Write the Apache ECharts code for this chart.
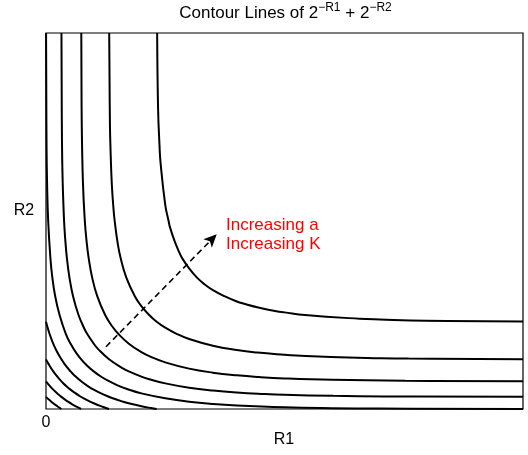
<!DOCTYPE html>
<html>
<head>
<meta charset="utf-8">
<script src="https://cdn.jsdelivr.net/npm/echarts@6/dist/echarts.min.js"></script>
<style>html,body{margin:0;padding:0;background:#fff}#c{width:528px;height:455px}</style>
</head>
<body>
<div id="c"></div>
<script>
// Contour levels of 2^-R1 + 2^-R2 (points [R1, R2])
const levels = [0.2, 0.4, 0.6, 0.8, 1.0, 1.2, 1.4, 1.6, 1.8];
const curve02 = [[2.33,10],[2.35,7.97],[2.38,7],[2.4,6.57],[2.5,5.43],[2.57,5],[2.6,4.83],[2.7,4.45],[2.8,4.15],[2.86,4],[3,3.74],[3.16,3.5],[3.32,3.32],[3.5,3.16],[3.74,3],[4,2.86],[4.15,2.8],[4.45,2.7],[4.83,2.6],[5,2.57],[5.43,2.5],[6.57,2.4],[7,2.38],[7.97,2.35],[10,2.33]];
const curve04 = [[1.325,10],[1.34,7.6],[1.35,7.02],[1.38,5.97],[1.42,5.25],[1.44,5],[1.5,4.43],[1.567,4],[1.682,3.5],[1.862,3],[2,2.737],[2.163,2.5],[2.32,2.32],[2.5,2.163],[2.737,2],[3,1.862],[3.5,1.682],[4,1.567],[4.43,1.5],[5,1.44],[5.25,1.42],[5.97,1.38],[7.02,1.35],[7.6,1.34],[10,1.325]];
const curve06 = [[0.74,10],[0.75,7.53],[0.775,6],[0.814,5],[0.85,4.47],[0.896,4],[0.967,3.5],[1.074,3],[1.24,2.5],[1.387,2.2],[1.515,2],[1.737,1.737],[2,1.515],[2.2,1.387],[2.5,1.24],[3,1.074],[3.5,0.967],[4,0.896],[4.47,0.85],[5,0.814],[6,0.775],[7.53,0.75],[10,0.74]];
const curve08 = [[0.324,10],[0.335,7.1],[0.35,6.02],[0.379,5],[0.4,4.57],[0.439,4],[0.491,3.5],[0.567,3],[0.682,2.5],[0.8,2.147],[0.862,2],[1,1.737],[1.089,1.6],[1.322,1.322],[1.6,1.089],[1.737,1],[2,0.862],[2.147,0.8],[2.5,0.682],[3,0.567],[3.5,0.491],[4,0.439],[4.57,0.4],[5,0.379],[6.02,0.35],[7.1,0.335],[10,0.324]];
const curve10 = [[0.0014,10],[0.0113,7],[0.0227,6],[0.0458,5],[0.0931,4],[0.1324,3.5],[0.1926,3],[0.2845,2.5],[0.415,2],[0.531,1.7],[0.6295,1.5],[0.7517,1.3],[0.864,1.15],[1,1],[1.15,0.864],[1.3,0.7517],[1.5,0.6295],[1.7,0.531],[2,0.415],[2.5,0.2845],[3,0.1926],[3.5,0.1324],[4,0.0931],[5,0.0458],[6,0.0227],[7,0.0113],[10,0.0014]];
const curve12 = [[0,2.32],[0.0256,2.2],[0.074,2],[0.1316,1.8],[0.2007,1.6],[0.2843,1.4],[0.387,1.2],[0.5146,1],[0.5905,0.9],[0.737,0.737],[0.9,0.5905],[1,0.5146],[1.2,0.387],[1.4,0.2843],[1.6,0.2007],[1.8,0.1316],[2,0.074],[2.2,0.0256],[2.32,0]];
const curve14 = [[0,1.32],[0.0518,1.2],[0.152,1],[0.2763,0.8],[0.35,0.7],[0.434,0.6],[0.515,0.515],[0.6,0.434],[0.7,0.35],[0.8,0.2763],[1,0.152],[1.2,0.0518],[1.32,0]];
const curve16 = [[0,0.737],[0.0548,0.65],[0.125,0.55],[0.204,0.45],[0.248,0.4],[0.322,0.322],[0.4,0.248],[0.45,0.204],[0.55,0.125],[0.65,0.0548],[0.737,0]];
const curve18 = [[0,0.322],[0.0603,0.25],[0.1056,0.2],[0.152,0.152],[0.2,0.1056],[0.25,0.0603],[0.322,0]];
const curves = [curve02, curve04, curve06, curve08, curve10, curve12, curve14, curve16, curve18];
const axisMin = 0, axisMax = 10;
const xTickLabels = ['0'];
const arrowFrom = [1.258, 1.657];
const arrowTo = [3.579, 4.646];
const noteLines = ['Increasing a', 'Increasing K'];
const titleParts = ['Contour Lines of 2', '−R1', ' + 2', '−R2'];

const FONT = 'Liberation Sans, Arial, Helvetica, sans-serif';
const mainFont = '17px ' + FONT;
const supFont = '12px ' + FONT;
const mctx = document.createElement('canvas').getContext('2d');
function tw(t, f) { mctx.font = f; return mctx.measureText(t).width; }
const partFonts = [mainFont, supFont, mainFont, supFont];
const partY = [13.5, 7.5, 13.5, 7.5];
let total = 0; titleParts.forEach((p, i) => total += tw(p, partFonts[i]));
let cx = 285.5 - total / 2;
const titleEls = titleParts.map((p, i) => {
  const el = {type: 'text', x: cx, y: partY[i], style: {text: p, font: partFonts[i], fill: '#000', align: 'left', verticalAlign: 'middle'}};
  cx += tw(p, partFonts[i]);
  return el;
});

const chart = echarts.init(document.getElementById('c'), null, {renderer: 'canvas'});
const series = curves.map((d, i) => ({
  name: 'level ' + levels[i], type: 'line', data: d, smooth: 0.45, symbol: 'none',
  lineStyle: {color: '#000', width: 2}, animation: false, clip: true, z: 3
}));
series.push({
  type: 'line', data: [], symbol: 'none', animation: false,
  markLine: {
    silent: true, symbol: ['none', 'arrow'], symbolSize: [9, 13], animation: false,
    label: {show: false},
    lineStyle: {color: '#000', width: 1.6, type: [6, 4]},
    data: [[{coord: arrowFrom}, {coord: arrowTo}]]
  }
});

chart.setOption({
  animation: false,
  backgroundColor: '#fff',
  grid: {left: 46, right: 5, top: 33, bottom: 46, show: true, borderColor: '#000', borderWidth: 1.2, backgroundColor: 'transparent'},
  xAxis: {type: 'value', min: axisMin, max: axisMax, interval: 5, splitLine: {show: false}, axisTick: {show: false},
    axisLine: {show: false},
    axisLabel: {margin: 6, fontSize: 16, fontFamily: 'Liberation Sans', color: '#000',
      formatter: function (v) { return xTickLabels.indexOf(String(v)) >= 0 ? String(v) : ''; }}},
  yAxis: {type: 'value', min: axisMin, max: axisMax, splitLine: {show: false}, axisTick: {show: false},
    axisLine: {show: false}, axisLabel: {show: false}},
  series: series,
  graphic: titleEls.concat([
    {type: 'text', x: 24, y: 211, style: {text: 'R2', font: '16px ' + FONT, fill: '#000', align: 'center', verticalAlign: 'middle'}},
    {type: 'text', x: 284, y: 440, style: {text: 'R1', font: '16px ' + FONT, fill: '#000', align: 'center', verticalAlign: 'middle'}},
    {type: 'text', x: 226, y: 225, style: {text: noteLines[0], font: '17px ' + FONT, fill: '#ff0000', align: 'left', verticalAlign: 'middle'}},
    {type: 'text', x: 226, y: 244, style: {text: noteLines[1], font: '17px ' + FONT, fill: '#ff0000', align: 'left', verticalAlign: 'middle'}}
  ])
});
</script>
</body>
</html>
